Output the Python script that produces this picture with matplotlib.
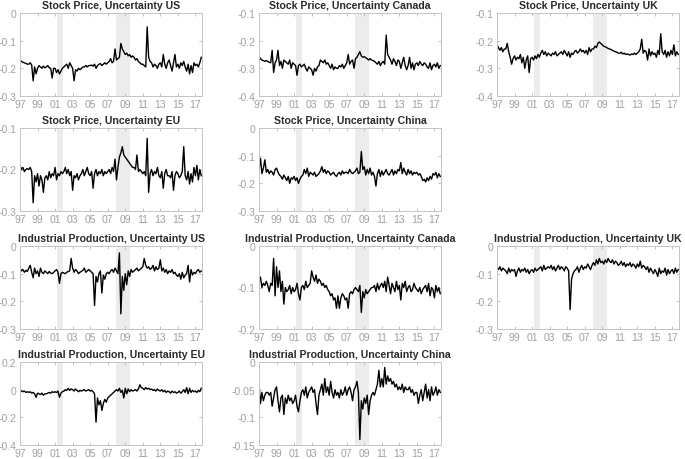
import numpy as np
import matplotlib
matplotlib.use("Agg")
import matplotlib.pyplot as plt

plt.rcParams['font.family'] = ['Liberation Sans', 'DejaVu Sans']

# bi-monthly observations, 1997 onwards (values in thousandths)
us_stock = [
    -170, -175, -178, -180, -182, -185,
    -185, -180, -188, -245, -195, -220,
    -200, -190, -195, -200, -192, -198,
    -195, -190, -198, -200, -235, -200,
    -200, -215, -205, -220, -210, -200,
    -195, -190, -185, -200, -180, -190,
    -200, -245, -205, -210, -200, -205,
    -200, -195, -195, -190, -195, -190,
    -190, -188, -192, -185, -200, -190,
    -185, -183, -190, -185, -180, -185,
    -180, -175, -165, -180, -175, -130,
    -170, -165, -160, -110, -130, -140,
    -150, -145, -155, -150, -160, -155,
    -160, -170, -165, -175, -180, -185,
    -185, -190, -195, -50, -160, -175,
    -180, -195, -185, -190, -200, -185,
    -180, -195, -150, -185, -200, -180,
    -170, -190, -210, -180, -150, -195,
    -185, -200, -180, -190, -175, -195,
    -210, -185, -220, -190, -215, -180,
    -190, -185, -195, -180, -160,
]
ca_stock = [
    -258, -265, -270, -272, -275, -272,
    -275, -278, -280, -235, -315, -280,
    -270, -235, -290, -275, -300, -270,
    -275, -280, -285, -270, -300, -280,
    -285, -290, -325, -290, -285, -295,
    -290, -285, -300, -310, -295, -300,
    -305, -325, -300, -310, -295, -290,
    -270, -275, -280, -270, -285, -280,
    -290, -300, -285, -305, -295, -300,
    -300, -290, -295, -285, -300, -290,
    -280, -250, -285, -275, -270, -300,
    -265, -260, -250, -240, -255, -260,
    -258, -262, -265, -270, -265, -270,
    -272, -275, -280, -285, -275, -290,
    -280, -275, -285, -180, -250, -260,
    -270, -285, -265, -275, -290, -270,
    -275, -300, -280, -260, -290, -305,
    -290, -260, -300, -280, -305, -285,
    -280, -290, -275, -285, -290, -280,
    -285, -295, -300, -280, -305, -290,
    -285, -295, -280, -300, -290,
]
uk_stock = [
    -215, -225, -235, -225, -240, -230,
    -230, -210, -240, -260, -285, -265,
    -255, -270, -260, -265, -250, -280,
    -260, -300, -270, -255, -315, -265,
    -260, -270, -255, -265, -250, -260,
    -245, -235, -250, -240, -255, -245,
    -250, -255, -245, -250, -240, -255,
    -250, -245, -240, -250, -235, -245,
    -255, -240, -260, -245, -250, -240,
    -235, -245, -240, -230, -240, -235,
    -245, -235, -250, -225, -240, -230,
    -230, -220, -225, -210, -205, -210,
    -215, -220, -222, -225, -228, -230,
    -232, -235, -238, -240, -242, -245,
    -245, -242, -248, -245, -250, -248,
    -250, -252, -248, -250, -245, -250,
    -245, -240, -230, -195, -245, -235,
    -240, -270, -230, -255, -240, -250,
    -245, -260, -235, -250, -175, -240,
    -250, -235, -260, -240, -255, -235,
    -250, -215, -255, -240, -250,
]
eu_stock = [
    -190, -200, -195, -205, -200, -198,
    -200, -195, -205, -280, -215, -230,
    -210, -240, -215, -225, -255, -220,
    -215, -225, -205, -220, -210, -215,
    -195, -225, -210, -215, -205, -210,
    -205, -195, -210, -200, -215, -205,
    -250, -215, -220, -210, -225, -215,
    -210, -200, -215, -205, -195, -210,
    -215, -205, -245, -210, -200, -215,
    -205, -210, -200, -215, -205, -210,
    -205, -200, -210, -195, -205, -175,
    -225, -195, -170, -160, -145, -165,
    -170, -175, -180, -185, -190, -195,
    -195, -200, -165, -205, -200, -205,
    -210, -205, -215, -125, -255, -210,
    -200, -215, -205, -210, -195, -215,
    -220, -205, -245, -210, -200, -215,
    -215, -220, -205, -250, -215, -205,
    -210, -220, -215, -205, -145, -215,
    -225, -205, -235, -210, -230, -195,
    -215, -190, -225, -200, -215,
]
cn_stock = [
    -150, -110, -165, -145, -115, -160,
    -150, -165, -155, -160, -170, -150,
    -145, -160, -170, -175, -185, -170,
    -180, -190, -175, -200, -180, -185,
    -175, -190, -180, -200, -185, -175,
    -170, -150, -165, -145, -175, -160,
    -165, -170, -160, -175, -170, -165,
    -155, -140, -160, -150, -165, -155,
    -160, -170, -165, -160, -170, -175,
    -165, -160, -170, -155, -165, -160,
    -160, -165, -150, -160, -165, -160,
    -155, -145, -165, -160, -85, -150,
    -140, -170, -150, -165, -145, -170,
    -160, -175, -210, -165, -150, -175,
    -155, -170, -160, -150, -165, -170,
    -160, -150, -170, -155, -165, -150,
    -155, -125, -165, -145, -160, -170,
    -150, -165, -155, -170, -160, -165,
    -160, -170, -165, -175, -190, -185,
    -195, -180, -190, -175, -185, -165,
    -170, -160, -180, -165, -175,
]
us_ip = [
    -80, -90, -85, -95, -88, -92,
    -80, -70, -95, -115, -80, -100,
    -90, -110, -80, -95, -100, -90,
    -95, -100, -92, -98, -100, -95,
    -90, -85, -95, -135, -100, -95,
    -98, -100, -95, -92, -90, -45,
    -80, -95, -85, -90, -100, -95,
    -92, -88, -80, -95, -90, -85,
    -90, -95, -100, -215, -110, -130,
    -100, -90, -170, -105, -120, -100,
    -95, -100, -90, -85, -95, -80,
    -90, -100, -25, -245, -110, -160,
    -100, -140, -90, -110, -85, -95,
    -90, -85, -80, -90, -85, -80,
    -75, -45, -70, -80, -75, -85,
    -80, -70, -90, -75, -85, -80,
    -50, -90, -80, -95, -85, -100,
    -90, -95, -85, -100, -95, -105,
    -110, -100, -120, -95, -115, -105,
    -100, -70, -130, -85, -105, -95,
    -100, -90, -85, -95, -90,
]
ca_ip = [
    -85, -75, -100, -90, -95, -85,
    -95, -110, -90, -95, -30, -120,
    -50, -100, -60, -110, -85, -140,
    -100, -110, -105, -95, -115, -100,
    -110, -105, -90, -115, -130, -100,
    -95, -105, -85, -100, -95, -90,
    -60, -75, -85, -70, -90, -80,
    -85, -95, -90, -100, -95, -105,
    -110, -120, -115, -130, -125, -150,
    -120, -150, -125, -115, -120, -130,
    -125, -150, -115, -110, -115, -105,
    -100, -105, -110, -95, -160, -110,
    -125, -105, -115, -110, -105, -100,
    -100, -95, -110, -90, -105, -95,
    -90, -100, -85, -110, -75, -95,
    -115, -90, -100, -110, -85, -105,
    -95, -130, -90, -100, -85, -110,
    -100, -95, -110, -105, -90, -100,
    -105, -110, -100, -115, -105, -100,
    -95, -110, -90, -120, -100, -105,
    -125, -95, -110, -100, -115,
]
uk_ip = [
    -80, -85, -75, -90, -80, -85,
    -90, -100, -80, -95, -85, -90,
    -85, -110, -90, -80, -95, -85,
    -90, -80, -95, -85, -100, -90,
    -85, -95, -80, -90, -85, -80,
    -75, -90, -70, -85, -80, -75,
    -80, -70, -85, -75, -90, -80,
    -70, -85, -75, -80, -90, -75,
    -80, -90, -230, -120, -100, -90,
    -85, -75, -95, -80, -70, -85,
    -75, -80, -65, -75, -85, -70,
    -60, -70, -50, -65, -45, -60,
    -55, -65, -50, -60, -45, -55,
    -60, -50, -65, -55, -60, -70,
    -65, -55, -70, -60, -75, -65,
    -70, -60, -75, -65, -70, -80,
    -65, -75, -55, -80, -70, -75,
    -85, -75, -95, -80, -90, -100,
    -85, -95, -110, -80, -100, -90,
    -95, -80, -105, -85, -100, -90,
    -85, -100, -80, -95, -85,
]
eu_ip = [
    0, -10, -15, -10, -20, -15,
    -20, -15, -25, -20, -30, -55,
    -25, -30, -35, -25, -40, -30,
    -30, -25, -20, -25, -15, -20,
    -15, -20, -10, -55, -25, -15,
    -10, 0, -5, 10, -5, 5,
    0, -10, 5, -5, -15, -5,
    -10, -5, 0, -10, -5, 0,
    -10, -5, -15, -30, -235, -60,
    -110, -80, -150, -100, -70, -90,
    -60, -50, -40, -30, -20, -10,
    0, -10, 10, -20, -5, -60,
    10, -30, 5, -15, 0, -10,
    -5, 0, -10, 5, 35, 15,
    10, 0, 15, 5, 10, 0,
    5, -5, 0, -10, 5, -5,
    -10, 0, -15, -5, -20, -10,
    -15, -25, -10, -20, -15, -25,
    -20, -10, -25, -15, 0, -20,
    15, -30, 10, -20, -5, -15,
    -10, -20, -5, -15, 10,
]
cn_ip = [
    -40, -75, -55, -70, -60, -55,
    -55, -60, -55, -80, -65, -50,
    -45, -70, -90, -65, -60, -95,
    -65, -75, -60, -70, -65, -75,
    -70, -60, -80, -90, -70, -55,
    -50, -60, -45, -65, -55, -50,
    -45, -55, -50, -75, -95, -60,
    -50, -40, -60, -30, -55, -45,
    -60, -35, -55, -65, -50, -60,
    -55, -65, -50, -60, -55, -45,
    -60, -50, -45, -55, -70, -50,
    -45, -35, -55, -140, -70, -85,
    -65, -75, -60, -95, -70, -60,
    -55, -60, -50, -40, -15, -45,
    -30, -45, -10, -40, -25, -35,
    -30, -40, -35, -45, -40, -50,
    -45, -50, -40, -55, -45, -50,
    -50, -45, -55, -50, -60, -55,
    -55, -75, -60, -50, -70, -55,
    -40, -65, -50, -70, -45, -60,
    -55, -45, -60, -50, -55,
]

recessions = [(2001.17, 2001.87), (2007.92, 2009.5)]
year_ticks = list(range(1997, 2018, 2))
year_labels = ['97', '99', '01', '03', '05', '07', '09', '11', '13', '15', '17']

panels = [
    # (row, col, title, data, ylim, yticks, ticklabels)
    (0, 0, 'Stock Price, Uncertainty US', us_stock, (-0.3, 0), [-0.3, -0.2, -0.1, 0], ['-0.3', '-0.2', '-0.1', '0']),
    (0, 1, 'Stock Price, Uncertainty Canada', ca_stock, (-0.4, -0.1), [-0.4, -0.3, -0.2, -0.1], ['-0.4', '-0.3', '-0.2', '-0.1']),
    (0, 2, 'Stock Price, Uncertainty UK', uk_stock, (-0.4, -0.1), [-0.4, -0.3, -0.2, -0.1], ['-0.4', '-0.3', '-0.2', '-0.1']),
    (1, 0, 'Stock Price, Uncertainty EU', eu_stock, (-0.3, -0.1), [-0.3, -0.2, -0.1], ['-0.3', '-0.2', '-0.1']),
    (1, 1, 'Stock Price, Uncertainty China', cn_stock, (-0.3, 0), [-0.3, -0.2, -0.1, 0], ['-0.3', '-0.2', '-0.1', '0']),
    (2, 0, 'Industrial Production, Uncertainty US', us_ip, (-0.3, 0), [-0.3, -0.2, -0.1, 0], ['-0.3', '-0.2', '-0.1', '0']),
    (2, 1, 'Industrial Production, Uncertainty Canada', ca_ip, (-0.2, 0), [-0.2, -0.1, 0], ['-0.2', '-0.1', '0']),
    (2, 2, 'Industrial Production, Uncertainty UK', uk_ip, (-0.3, 0), [-0.3, -0.2, -0.1, 0], ['-0.3', '-0.2', '-0.1', '0']),
    (3, 0, 'Industrial Production, Uncertainty EU', eu_ip, (-0.4, 0.2), [-0.4, -0.2, 0, 0.2], ['-0.4', '-0.2', '0', '0.2']),
    (3, 1, 'Industrial Production, Uncertainty China', cn_ip, (-0.15, 0), [-0.15, -0.1, -0.05, 0], ['-0.15', '-0.1', '-0.05', '0']),
]

W, H = 685, 460
lefts = [20, 259, 497]
width = 182
tops = [14, 129, 247, 363]
height = 83

fig = plt.figure(figsize=(W / 100, H / 100), dpi=100)

for row, col, title, data, ylim, yt, ytl in panels:
    ax = fig.add_axes([lefts[col] / W, 1 - (tops[row] + height) / H, width / W, height / H])
    y = np.array(data) / 1000
    t = 1997 + np.arange(len(y)) / 6
    for a, b in recessions:
        ax.axvspan(a, b, color='#ececec', lw=0, zorder=0)
    ax.plot(t, y, color='black', lw=1.0)
    ax.set_xlim(1997, 2017.75)
    ax.set_ylim(*ylim)
    ax.set_xticks(year_ticks)
    ax.set_xticklabels(year_labels)
    ax.set_yticks(yt)
    ax.set_yticklabels(ytl)
    ax.tick_params(direction='in', length=2, width=0.6, colors='#b8b8b8',
                   labelcolor='#a0a0a0', labelsize=7.5, top=True, right=True, pad=2.5)
    for s in ax.spines.values():
        s.set_color('#c4c4c4')
        s.set_linewidth(0.7)
    ax.set_title(title, fontsize=7.6, fontweight='bold', color='#2b2b2b', pad=3.5)

fig.savefig('out.png', dpi=100)
